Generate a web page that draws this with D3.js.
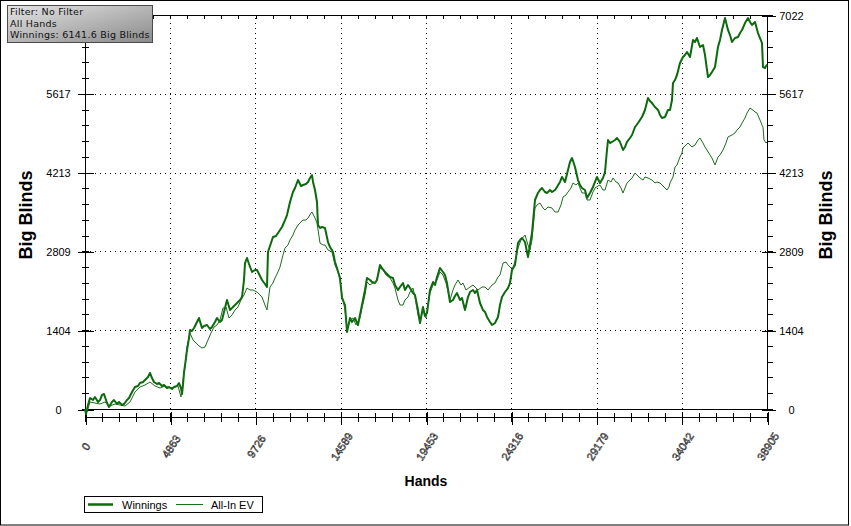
<!DOCTYPE html>
<html>
<head>
<meta charset="utf-8">
<script src="https://cdn.jsdelivr.net/npm/d3@7/dist/d3.min.js"></script>
<style>
  html, body { margin: 0; padding: 0; background: #fff; }
  svg { display: block; }
  text { font-family: "Liberation Sans", Arial, sans-serif; }
</style>
</head>
<body>
<svg id="chart" width="851" height="526"></svg>
<script>
// ---------- DATA ----------
const xTicks = [0, 4863, 9726, 14589, 19453, 24316, 29179, 34042, 38905];
const yTicks = [0, 1404, 2809, 4213, 5617, 7022];
const infoLines = ["Filter: No Filter", "All Hands", "Winnings: 6141.6 Big Blinds"];
const seriesNames = ["Winnings", "All-In EV"];

const winHands = [0,57,171,285,456,570,742,856,970,1084,1255,1369,1540,1654,1825,1940,2111,2225,2396,2510,2681,2852,3023,3137,3309,3423,3594,3708,3822,3936,4107,4221,4392,4507,4678,4792,4963,5077,5248,5362,5476,5533,5590,5647,5762,5819,5933,5990,6104,6218,6389,6503,6674,6788,6959,7131,7245,7416,7530,7701,7815,7986,8100,8272,8386,8557,8671,8842,8956,9070,9127,9241,9355,9527,9698,9812,9983,10097,10268,10382,10439,10553,10724,10896,11010,11124,11238,11409,11523,11694,11865,11979,12151,12322,12436,12607,12721,12835,12949,13006,13120,13234,13291,13406,13520,13691,13862,13976,14147,14261,14375,14546,14661,14832,14946,15117,15231,15402,15573,15687,15801,15973,16087,16258,16372,16543,16657,16828,16942,17114,17285,17399,17570,17684,17855,17969,18140,18254,18426,18540,18711,18825,18996,19110,19281,19395,19509,19681,19852,19966,20080,20251,20422,20536,20650,20821,20993,21107,21221,21392,21506,21677,21848,21962,22133,22248,22362,22533,22704,22818,22932,23103,23217,23388,23560,23674,23788,23959,24130,24244,24358,24529,24700,24815,24929,25100,25271,25385,25499,25670,25841,25955,26070,26241,26355,26526,26640,26811,26925,27096,27210,27382,27553,27667,27781,27952,28123,28237,28351,28523,28637,28808,28979,29093,29207,29378,29549,29663,29777,29835,29949,30063,30234,30348,30519,30690,30804,30918,31090,31204,31375,31546,31660,31774,31945,32059,32116,32230,32345,32516,32687,32801,32915,33086,33257,33371,33485,33542,33657,33771,33942,34113,34227,34341,34512,34683,34797,34912,35083,35254,35368,35482,35539,35653,35767,35938,36109,36224,36338,36509,36680,36794,36908,37079,37250,37365,37479,37650,37821,37935,38049,38220,38391,38505,38619,38676,38791,38905];
const winBB = [0,-89,71,196,160,214,125,160,250,267,107,36,125,160,89,125,71,89,160,196,303,392,410,463,481,517,570,642,552,481,446,463,410,428,374,392,356,392,410,463,374,267,428,642,909,1051,1265,1408,1390,1444,1551,1622,1444,1479,1497,1426,1461,1551,1622,1551,1586,1800,1943,1764,1800,1853,1889,1943,1996,2299,2602,2691,2584,2442,2477,2477,2370,2299,2228,2174,2798,2905,3065,3083,3137,3190,3244,3368,3457,3689,3867,3939,4081,3974,3992,4010,4046,4117,4170,4046,3903,3689,3279,3226,3244,3226,2976,2887,2798,2620,2513,2335,1978,1853,1372,1622,1551,1622,1497,1675,1853,2121,2335,2299,2263,2246,2299,2566,2513,2442,2388,2353,2335,2210,2121,2174,2246,2121,2210,2156,2067,2032,1764,1533,1818,1657,1711,2121,2263,2210,2353,2513,2442,2388,2246,1907,1943,2014,2067,1943,1978,1764,1996,2085,2121,2067,2121,1889,1764,1729,1640,1551,1497,1533,1640,1853,1996,2085,2156,2246,2477,2566,2958,3012,3048,2976,2709,2923,3137,3725,3850,3903,3939,3867,3850,3903,3867,3903,3957,4046,4135,4046,4259,4402,4473,4313,4081,3992,3939,3903,3760,3850,3957,4046,4135,4028,4117,4224,4616,4794,4741,4759,4794,4830,4759,4616,4669,4759,4830,4883,5026,5097,5151,5204,5329,5471,5543,5489,5453,5382,5329,5240,5186,5204,5329,5329,5507,5810,5863,5953,6166,6273,6309,6362,6273,6576,6541,6612,6452,6487,6309,6042,5917,5953,6006,6095,6452,6576,6755,6968,6755,6665,6541,6612,6630,6701,6755,6879,6968,6897,6844,6897,6701,6612,6523,6095,6077,6141.6];

const evHands = [0,114,285,570,856,1141,1426,1711,1997,2282,2567,2852,3137,3423,3708,3993,4278,4564,4849,5134,5305,5476,5590,5705,5819,5990,6161,6332,6503,6674,6845,7017,7188,7359,7530,7701,7872,8043,8214,8386,8557,8728,8899,9070,9241,9412,9584,9812,9983,10097,10268,10382,10553,10724,10839,11010,11124,11295,11409,11580,11694,11865,11979,12151,12265,12436,12607,12721,12892,12949,13120,13234,13406,13577,13691,13862,14090,14261,14432,14546,14661,14832,14946,15117,15288,15459,15687,15801,15973,16087,16258,16429,16600,16828,16999,17171,17399,17570,17684,17855,17969,18140,18254,18426,18540,18711,18825,18996,19110,19281,19452,19681,19852,20080,20251,20422,20593,20821,20993,21107,21278,21449,21563,21734,21962,22133,22248,22419,22647,22818,22989,23217,23388,23560,23674,23845,24016,24130,24301,24415,24586,24700,24872,25100,25271,25385,25499,25670,25784,25955,26127,26241,26412,26640,26811,26982,27153,27268,27439,27553,27724,27838,28009,28123,28237,28351,28523,28637,28808,28979,29093,29264,29378,29549,29663,29835,30006,30120,30291,30405,30576,30690,30804,30918,31090,31204,31375,31546,31660,31831,31945,32116,32345,32516,32630,32801,32915,33086,33200,33314,33371,33542,33657,33771,33942,34056,34113,34227,34398,34626,34797,34968,35083,35254,35368,35482,35653,35767,35938,36109,36224,36395,36566,36680,36908,37079,37193,37365,37479,37650,37764,37935,38106,38220,38334,38505,38619,38676,38734,38848,38905];
const evBB = [0,-53,125,107,89,125,53,89,71,53,125,303,392,428,481,410,374,410,374,392,410,214,517,749,1105,1354,1230,1176,1123,1087,1105,1230,1354,1461,1497,1586,1800,1818,1622,1675,1764,1818,1943,2032,2156,2121,2121,2085,2032,1996,1853,1764,2174,2246,2335,2442,2531,2745,2869,2923,3012,3101,3190,3279,3315,3368,3368,3404,3493,3511,3404,3315,2958,2923,2923,2834,2798,2566,2442,2299,2032,1764,1408,1586,1622,1497,1622,1800,2032,2263,2210,2246,2263,2513,2477,2388,2335,2246,2156,1943,1853,1853,1943,1996,2085,2156,1996,1675,1551,1764,1622,2067,2210,2299,2442,2388,2246,1943,2121,2210,2299,2210,2246,2121,2174,2210,2174,2121,2174,2174,2121,2210,2246,2353,2388,2602,2620,2566,2513,2513,2691,2869,3012,3101,2923,2834,3012,3582,3636,3671,3582,3546,3600,3582,3511,3511,3636,3778,3814,3867,3939,4028,3992,4028,3939,3850,3850,3725,3725,3867,3939,3974,3992,3903,3903,4081,4046,4117,4046,4028,3939,3850,3939,4028,4081,4117,4206,4153,4117,4081,4135,4117,4081,4028,4046,4028,3992,3939,3903,3957,4028,4135,4313,4349,4491,4562,4652,4687,4741,4669,4705,4794,4830,4741,4669,4616,4527,4473,4349,4491,4527,4616,4741,4848,4883,4919,4972,5026,5097,5186,5275,5364,5329,5293,5275,5151,5061,5026,4794,4741,4759];

// ---------- CHART ----------
const svg = d3.select("#chart");
const L = 85, R = 767, T = 15, B = 409, XAX = 417;
const x = d3.scaleLinear().domain([0, 38905]).range([L, R]);
const y = d3.scaleLinear().domain([0, 7022]).range([B, T]);
const lineColor = "#0b6a0b";

// outer border
svg.append("rect").attr("x", 0.5).attr("y", 0.5).attr("width", 848).attr("height", 524.5)
  .attr("fill", "#fff").attr("stroke", "#000").attr("stroke-width", 1);

// gridlines (dotted)
const grid = svg.append("g").attr("stroke", "#000").attr("stroke-width", 1)
  .attr("stroke-dasharray", "1,4").attr("shape-rendering", "crispEdges");
grid.selectAll("line.v").data(xTicks.slice(1, -1)).join("line")
  .attr("x1", d => Math.round(x(d)) + 0.5).attr("x2", d => Math.round(x(d)) + 0.5)
  .attr("y1", T + 3).attr("y2", B);
grid.selectAll("line.h").data(yTicks.slice(1, -1)).join("line")
  .attr("y1", d => Math.round(y(d)) + 0.5).attr("y2", d => Math.round(y(d)) + 0.5)
  .attr("x1", L).attr("x2", R);

// frame pieces: top line, zero line
const frame = svg.append("g").attr("stroke", "#000").attr("stroke-width", 1).attr("shape-rendering", "crispEdges");
frame.append("line").attr("x1", L).attr("x2", R + 1).attr("y1", T + 0.5).attr("y2", T + 0.5);
frame.append("line").attr("x1", L).attr("x2", R).attr("y1", B + 0.5).attr("y2", B + 0.5);

// minor ticks
const xMinor = d3.range(0, 41).map(i => i * 38905 / 40);
const yMinor = d3.range(0, 26).map(i => i * 7022 / 25);
frame.selectAll("line.xmb").data(xMinor).join("line")
  .attr("x1", d => Math.round(x(d)) + 0.5).attr("x2", d => Math.round(x(d)) + 0.5)
  .attr("y1", XAX - 4).attr("y2", XAX + 5);
frame.selectAll("line.xmt").data(xMinor).join("line")
  .attr("x1", d => Math.round(x(d)) + 0.5).attr("x2", d => Math.round(x(d)) + 0.5)
  .attr("y1", T).attr("y2", T + 4);
frame.selectAll("line.yml").data(yMinor).join("line")
  .attr("y1", d => Math.round(y(d)) + 0.5).attr("y2", d => Math.round(y(d)) + 0.5)
  .attr("x1", L - 3).attr("x2", L + 4);
frame.selectAll("line.ymr").data(yMinor).join("line")
  .attr("y1", d => Math.round(y(d)) + 0.5).attr("y2", d => Math.round(y(d)) + 0.5)
  .attr("x1", R).attr("x2", R + 6);

function styleAxis(g) {
  g.attr("shape-rendering", "crispEdges");
  g.select(".domain").attr("stroke", "#000");
  g.selectAll(".tick line").attr("stroke", "#000");
  g.selectAll(".tick text").attr("fill", "#000").style("font-family", '"Liberation Sans", Arial, sans-serif').style("font-size", "11px");
}

// left axis (the top label is hidden under the info box in the original)
const gL = svg.append("g").attr("transform", `translate(${L + 0.5},0.5)`)
  .call(d3.axisLeft(y).tickValues(yTicks).tickSizeOuter(0).tickSizeInner(8)
    .tickFormat(d => d === 7022 ? "" : d3.format("d")(d)));
styleAxis(gL);
gL.select(".domain").attr("d", `M0,${T}V${XAX}`);
gL.selectAll(".tick line").attr("x1", 8);
gL.selectAll(".tick text").attr("x", -27).attr("text-anchor", "middle");
gL.selectAll(".tick text").filter(d => d === 7022).remove();

// right axis
const gR = svg.append("g").attr("transform", `translate(${R + 0.5},0.5)`)
  .call(d3.axisRight(y).tickValues(yTicks).tickSizeOuter(0).tickSizeInner(8).tickFormat(d3.format("d")));
styleAxis(gR);
gR.select(".domain").attr("d", `M0,${T}V${B}`);
gR.selectAll(".tick line").attr("x1", -6);
gR.selectAll(".tick text").attr("x", 24).attr("text-anchor", "middle");

// bottom axis
const gB = svg.append("g").attr("transform", `translate(0.5,${XAX + 0.5})`)
  .call(d3.axisBottom(x).tickValues(xTicks).tickSizeOuter(0).tickSizeInner(7).tickFormat(d3.format("d")));
styleAxis(gB);
gB.select(".domain").attr("d", `M${L},0H${R}`);
gB.selectAll(".tick line").attr("y1", -6);
gB.selectAll(".tick text")
  .attr("y", null).attr("dy", "0.35em")
  .attr("text-anchor", "middle")
  .attr("transform", "translate(0,29) rotate(-57)")
  .attr("fill", "#fff").attr("stroke", "#111").attr("stroke-width", 0.55)
  .attr("shape-rendering", null);

// series lines
const line = d3.line().x(d => x(d[0])).y(d => y(d[1]));
svg.append("path").datum(d3.zip(winHands, winBB)).attr("d", line)
  .attr("fill", "none").attr("stroke", lineColor).attr("stroke-width", 2).attr("stroke-linejoin", "round");
svg.append("path").datum(d3.zip(evHands, evBB)).attr("d", line)
  .attr("fill", "none").attr("stroke", "#1b6e1b").attr("stroke-width", 1).attr("stroke-linejoin", "round");

// axis titles
svg.append("text").attr("x", 426).attr("y", 486).attr("text-anchor", "middle")
  .style("font-weight", "bold").style("font-size", "14px").text("Hands");
svg.append("text").attr("transform", "translate(32,215) rotate(-90)").attr("text-anchor", "middle")
  .style("font-weight", "bold").style("font-size", "18px").text("Big Blinds");
svg.append("text").attr("transform", "translate(832,215) rotate(-90)").attr("text-anchor", "middle")
  .style("font-weight", "bold").style("font-size", "18px").text("Big Blinds");

// legend
const lg = svg.append("g");
lg.append("rect").attr("x", 84.5).attr("y", 496.5).attr("width", 178).attr("height", 16)
  .attr("fill", "#fff").attr("stroke", "#000");
lg.append("line").attr("x1", 88).attr("x2", 113).attr("y1", 504.5).attr("y2", 504.5)
  .attr("stroke", lineColor).attr("stroke-width", 2.5);
lg.append("text").attr("x", 122).attr("y", 508.5).style("font-size", "11px").text(seriesNames[0]);
lg.append("line").attr("x1", 176).attr("x2", 203).attr("y1", 504.5).attr("y2", 504.5)
  .attr("stroke", "#1b6e1b").attr("stroke-width", 1);
lg.append("text").attr("x", 211).attr("y", 508.5).style("font-size", "11px").text(seriesNames[1]);

// info box
const defs = svg.append("defs");
const grad = defs.append("linearGradient").attr("id", "boxgrad")
  .attr("x1", "0").attr("y1", "0").attr("x2", "1").attr("y2", "1");
grad.append("stop").attr("offset", "0%").attr("stop-color", "#e4e4e4");
grad.append("stop").attr("offset", "100%").attr("stop-color", "#8a8a8a");
svg.append("rect").attr("x", 7.5).attr("y", 5.5).attr("width", 145).attr("height", 37)
  .attr("fill", "url(#boxgrad)").attr("stroke", "#4a4a4a").attr("stroke-width", 1);
svg.append("g").selectAll("text").data(infoLines).join("text")
  .attr("x", 10).attr("y", (d, i) => 15 + i * 11.5)
  .style("font-family", '"DejaVu Sans", Verdana, sans-serif').style("font-size", "9.5px")
  .style("letter-spacing", "0.25px")
  .attr("fill", "#111").text(d => d);
</script>
</body>
</html>
